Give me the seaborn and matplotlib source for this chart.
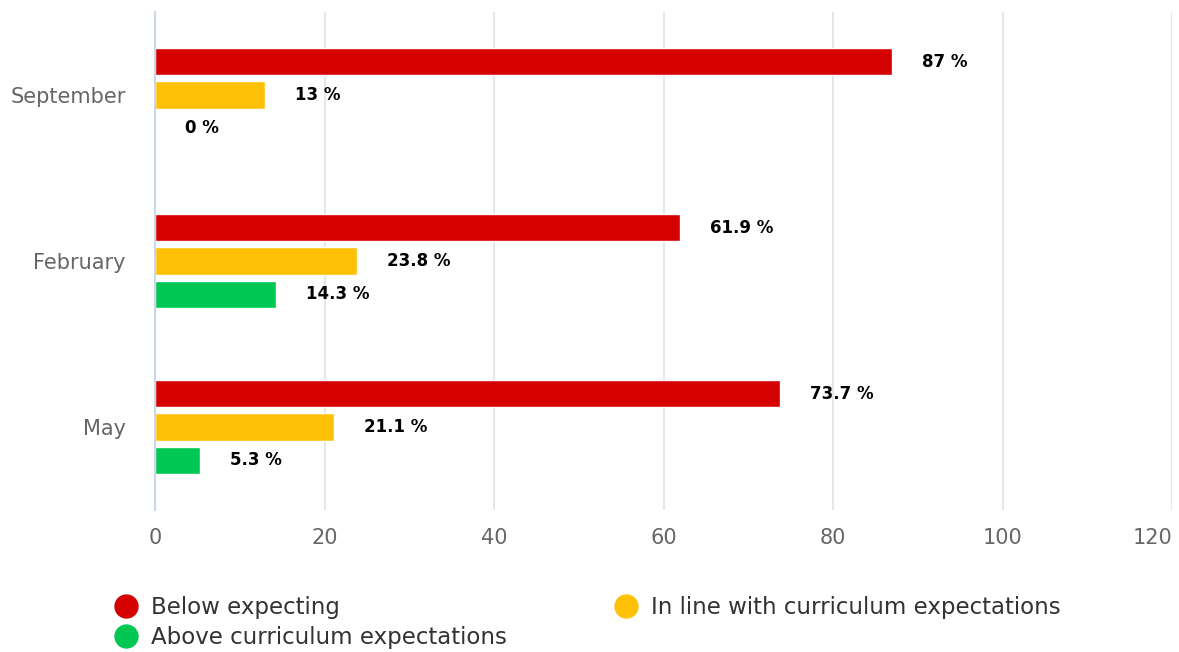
import matplotlib
matplotlib.use("Agg")
import matplotlib.pyplot as plt
from matplotlib.lines import Line2D
import seaborn as sns
import pandas as pd

months = ["September", "February", "May"]
series_names = ["Below expecting", "In line with curriculum expectations", "Above curriculum expectations"]
below = [87, 61.9, 73.7]
inline = [13, 23.8, 21.1]
above = [0, 14.3, 5.3]
x_ticks = [0, 20, 40, 60, 80, 100, 120]
colors = ["#D50000", "#FFC107", "#00C853"]

rows = []
for name, vals in zip(series_names, [below, inline, above]):
    for m, v in zip(months, vals):
        rows.append({"Month": m, "Series": name, "Value": v})
df = pd.DataFrame(rows)

sns.set_theme(style="white")
plt.rcParams['font.family'] = ['DejaVu Sans']

fig = plt.figure(figsize=(11.79, 6.52), dpi=100)
ax = fig.add_axes([155/1179, 1-510/652, (1172-155)/1179, (510-12)/652])

sns.barplot(data=df, y="Month", x="Value", hue="Series", order=months,
            hue_order=series_names, palette=colors, orient="h",
            width=0.6, gap=0.18, saturation=1, ax=ax, legend=False)

for cont, vals in zip(ax.containers, [below, inline, above]):
    ax.bar_label(cont, labels=[f"{v:g} %" for v in vals], padding=21.6,
                 fontsize=12, fontweight="bold", color="black")

ax.set_xlim(0, 120)
ax.set_ylim(2.5, -0.5)
ax.set_xticks(x_ticks)
ax.set_xticklabels([str(t) for t in x_ticks])
ax.get_xticklabels()[-1].set_horizontalalignment("right")
ax.set_xlabel("")
ax.set_ylabel("")
ax.grid(axis="x", color="#e6e6e6", linewidth=1.5)
ax.grid(axis="y", visible=False)
ax.set_axisbelow(True)
for s in ["top", "right", "bottom"]:
    ax.spines[s].set_visible(False)
ax.spines["left"].set_color("#ccd6eb")
ax.spines["left"].set_linewidth(1.5)
ax.tick_params(axis="both", length=0, labelsize=15, labelcolor="#666666")
ax.tick_params(axis="y", pad=21)
ax.tick_params(axis="x", pad=13)

handles = [Line2D([0], [0], marker="o", linestyle="", markersize=16.5,
                  markerfacecolor=c, markeredgecolor=c) for c in colors]
order = [0, 2, 1]
leg = fig.legend([handles[i] for i in order], [series_names[i] for i in order],
                 loc="upper left", bbox_to_anchor=(103/1179, 1-585/652),
                 ncol=2, frameon=False, fontsize=16.5, handletextpad=0.6,
                 columnspacing=4.7, labelspacing=0.3, handlelength=1.0,
                 borderpad=0)
for t in leg.get_texts():
    t.set_color("#333333")

fig.savefig("out.png", dpi=100)
